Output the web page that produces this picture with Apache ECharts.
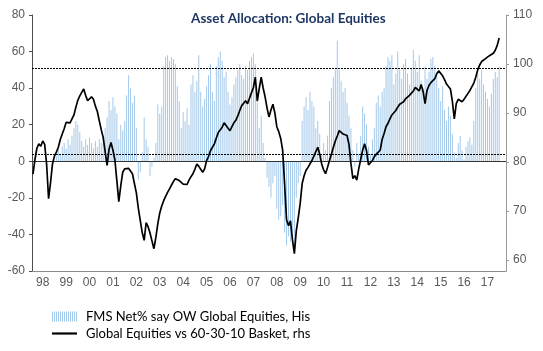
<!DOCTYPE html>
<html>
<head>
<meta charset="utf-8">
<title>Asset Allocation: Global Equities</title>
<script src="https://cdn.jsdelivr.net/npm/echarts@6.0.0/dist/echarts.min.js"></script>
<style>
  html, body { margin: 0; padding: 0; background: #fff; }
  #main { width: 543px; height: 351px; }
</style>
</head>
<body>
<div id="main"></div>
<script>
// year tick labels, one per year 1998..2017
var yearLabels = ['98', '99', '00', '01', '02', '03', '04', '05', '06', '07',
                  '08', '09', '10', '11', '12', '13', '14', '15', '16', '17'];

// FMS net % overweight global equities (lhs), monthly, one row per year
var fmsNet = [
  null, null, null, null, null, null, null, null, null, null, null, null, // 1998
  3, 6, 4, 8, 10, 7, 12, 9, 14, 18, 22, 20,                               // 1999
  16, 11, 8, 12, 9, 13, 10, 7, 11, 8, 12, 10,                             // 2000
  14, 18, 24, 33, 28, 35, 30, 26, 12, 20, 17, 22,                         // 2001
  36, 47, 40, 32, 36, 18, -10, -6, 5, 24, 12, 8,                          // 2002
  -8, -3, 2, 10, 31, 26, 30, 52, 57, 58, 55, 57,                          // 2003
  56, 53, 41, 33, 18, 27, 22, 29, 20, 42, 47, 38,                         // 2004
  44, 58, 38, 30, 34, 41, 47, 53, 38, 33, 52, 57,                         // 2005
  60, 55, 46, 49, 38, 31, 35, 42, 46, 50, 53, 47,                         // 2006
  45, 52, 50, 55, 57, 59, 53, 32, 18, 25, 10, 2,                          // 2007
  -9, -14, -20, -12, -8, -26, -32, -30, -24, -39, -46, -41,               // 2008
  -44, -39, -47, -20, -12, -8, 22, 30, 35, 28, 38, 33,                    // 2009
  30, 18, 22, 15, 4, 10, 6, 14, 33, 40, 46, 50,                           // 2010
  66, 50, 44, 38, 40, 32, 25, 18, 6, -3, 10, 4,                           // 2011
  14, 30, 26, 20, 8, 4, 12, 18, 32, 36, 30, 38,                           // 2012
  40, 52, 57, 55, 58, 42, 48, 60, 50, 45, 53, 56,                         // 2013
  48, 42, 51, 61, 55, 49, 58, 44, 40, 52, 45, 49,                         // 2014
  56, 57, 52, 47, 40, 33, 41, 28, 22, 30, 25, 15,                         // 2015
  5, 2, 10, 14, 6, 1, 8, 11, 13, 9, 22, 40,                               // 2016
  48, 45, 50, 42, 38, 34, 30, 37, 45, 49, 46, 52                          // 2017
];

// global equities vs 60-30-10 basket (rhs), monthly
var basket = [
  77.5, 80.5, 82.8, 83.7, 83.2, 84.3, 83.6, 79.5, 72.5, 75.8, 79.6, 81.2, // 1998
  82.0, 83.0, 84.6, 85.7, 86.8, 88.1, 88.5, 88.0, 87.6, 89.6, 91.2, 92.6, // 1999
  93.5, 94.2, 94.9, 93.6, 92.5, 92.9, 93.3, 92.8, 91.4, 90.3, 88.4, 86.6, // 2000
  85.0, 82.1, 79.3, 82.6, 84.0, 82.4, 80.4, 76.2, 71.9, 75.1, 77.9, 78.6, // 2001
  78.9, 78.7, 78.4, 77.6, 75.6, 73.7, 70.6, 68.1, 65.6, 64.0, 67.6, 66.8, // 2002
  65.5, 63.9, 62.3, 64.6, 67.4, 69.6, 71.0, 72.1, 73.0, 73.8, 74.5, 75.3, // 2003
  76.0, 76.6, 76.9, 76.2, 75.9, 75.5, 75.8, 75.4, 76.3, 77.0, 77.6, 78.5, // 2004
  79.6, 79.1, 79.5, 77.9, 78.6, 80.3, 81.1, 82.3, 83.0, 83.7, 84.9, 86.0, // 2005
  86.4, 87.1, 88.0, 88.4, 86.9, 86.4, 87.2, 88.0, 88.5, 89.4, 90.5, 91.5, // 2006
  92.0, 92.5, 91.9, 93.0, 94.1, 95.2, 97.3, 92.4, 95.0, 97.3, 95.1, 93.3, // 2007
  91.0, 89.2, 90.6, 91.8, 90.0, 87.2, 86.2, 84.8, 82.4, 75.5, 68.2, 67.0, // 2008
  68.0, 64.2, 61.3, 66.0, 68.6, 71.6, 75.6, 77.2, 78.3, 78.9, 79.6, 80.3, // 2009
  81.2, 82.1, 83.0, 81.6, 79.6, 78.4, 77.6, 78.9, 80.3, 81.6, 83.0, 84.3, // 2010
  85.3, 86.4, 86.0, 85.7, 85.6, 85.4, 83.6, 79.7, 76.6, 77.2, 76.3, 78.6, // 2011
  80.5, 82.4, 83.7, 82.3, 79.4, 79.2, 80.3, 81.1, 81.6, 81.3, 82.4, 84.6, // 2012
  85.8, 87.2, 87.9, 88.8, 89.6, 89.3, 90.5, 91.2, 91.8, 92.0, 92.3, 92.9, // 2013
  93.2, 93.6, 94.0, 94.5, 95.2, 95.0, 94.5, 95.8, 94.4, 91.9, 94.6, 95.6, // 2014
  96.2, 96.6, 97.0, 98.0, 98.6, 98.2, 97.6, 96.8, 95.9, 95.5, 94.9, 92.4, // 2015
  88.8, 91.9, 92.8, 92.9, 92.3, 92.8, 93.2, 94.0, 94.6, 94.9, 96.1, 97.3, // 2016
  98.8, 99.8, 100.5, 100.8, 101.1, 101.4, 101.7, 101.9, 102.2, 102.8, 103.8, 105.3 // 2017
];

var refLines = [51, 3.8];                    // dashed reference lines (lhs)
var rhsTicks = [60, 70, 80, 90, 100, 110];

var barName = 'FMS Net% say OW Global Equities, His';
var lineName = 'Global Equities vs 60-30-10 Basket, rhs';
var barColor = '#a3c9eb';

// monthly categories, axis runs a bit past the last year
var months = [];
for (var i = 0; i < 243; i++) {
  var yr = 1998 + Math.floor(i / 12);
  var mo = (i % 12) + 1;
  months.push(yr + '-' + (mo < 10 ? '0' + mo : mo));
}

// striped legend icon for the histogram
var stripes = 'path://';
for (var s = 0; s < 13; s++) {
  stripes += 'M' + (s * 2) + ',0h1v10h-1z';
}

var labelFont = { color: '#595959', fontFamily: 'Liberation Sans', fontSize: 12 };

var chart = echarts.init(document.getElementById('main'));
chart.setOption({
  animation: false,
  title: {
    text: 'Asset Allocation: Global Equities',
    left: 186,
    top: 7,
    textStyle: { fontFamily: 'Lato', fontWeight: 'bold', fontSize: 13.5, color: '#1f3864' }
  },
  legend: {
    orient: 'vertical',
    left: 47,
    top: 305,
    itemWidth: 25,
    itemHeight: 10,
    itemGap: 4,
    textStyle: { fontFamily: 'Lato', fontSize: 13, color: '#000', padding: [0, 0, 0, 4] },
    data: [
      { name: barName, icon: stripes, itemStyle: { color: barColor } },
      { name: lineName, icon: 'path://M0,0h25v2.2h-25z', itemStyle: { color: '#000' } }
    ]
  },
  grid: { left: 32, right: 37, top: 15, bottom: 80 },
  xAxis: {
    type: 'category',
    data: months,
    boundaryGap: true,
    axisLine: { onZero: false, lineStyle: { color: '#8c8c8c' } },
    axisTick: {
      interval: function (idx) { return idx % 12 === 0; },
      length: 4,
      lineStyle: { color: '#8c8c8c' }
    },
    axisLabel: Object.assign({
      interval: function (idx) { return idx % 12 === 5 && idx < 240; },
      formatter: function (v, idx) { return yearLabels[Math.floor(idx / 12)]; },
      margin: 6
    }, labelFont),
    splitLine: { show: false }
  },
  yAxis: [
    {
      type: 'value',
      min: -60,
      max: 80,
      interval: 20,
      axisLine: { show: true, lineStyle: { color: '#4d4d4d' } },
      axisTick: { show: true, length: 3, lineStyle: { color: '#4d4d4d' } },
      axisLabel: Object.assign({ margin: 7 }, labelFont),
      splitLine: { show: false }
    },
    {
      type: 'value',
      min: 57.75,
      max: 110,
      position: 'right',
      axisLine: { show: true, lineStyle: { color: '#999' } },
      axisTick: { show: true, length: 3, customValues: rhsTicks, lineStyle: { color: '#999' } },
      axisLabel: Object.assign({ margin: 7, customValues: rhsTicks }, labelFont),
      splitLine: { show: false }
    }
  ],
  series: [
    {
      name: barName,
      type: 'bar',
      data: fmsNet,
      barWidth: 1,
      itemStyle: { color: barColor },
      markLine: {
        silent: true,
        symbol: 'none',
        label: { show: false },
        data: [
          { yAxis: refLines[0], lineStyle: { type: [2, 1], color: '#000', width: 1 } },
          { yAxis: refLines[1], lineStyle: { type: [2, 1], color: '#000', width: 1 } },
          { yAxis: 0, lineStyle: { type: 'solid', color: '#333', width: 1 } }
        ]
      }
    },
    {
      name: lineName,
      type: 'line',
      yAxisIndex: 1,
      data: basket,
      symbol: 'none',
      lineStyle: { color: '#000', width: 1.7 },
      itemStyle: { color: '#000' },
      z: 5
    }
  ]
});
</script>
</body>
</html>
